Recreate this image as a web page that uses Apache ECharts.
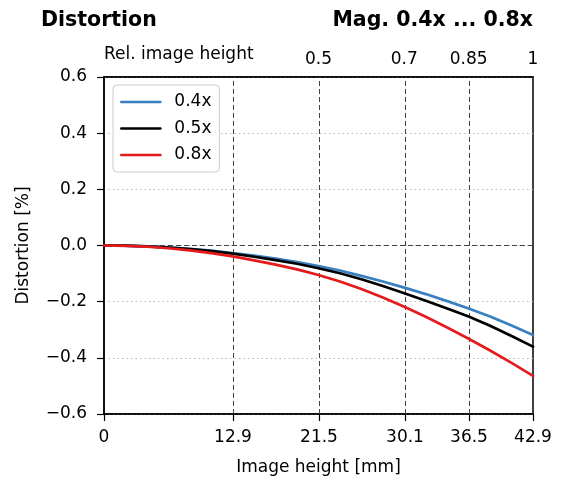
<!DOCTYPE html>
<html>
<head>
<meta charset="utf-8">
<script src="https://cdn.jsdelivr.net/npm/echarts@6/dist/echarts.min.js"></script>
<style>
html,body{margin:0;padding:0;background:#fff;}
#c{width:571px;height:482px;}
</style>
</head>
<body>
<div id="c"></div>
<script>
// ---- data ----
const xs = [0, 2.145, 4.29, 6.435, 8.58, 10.725, 12.87, 15.015, 17.16, 19.305, 21.45,
            23.595, 25.74, 27.885, 30.03, 32.175, 34.32, 36.465, 38.61, 40.755, 42.9];
const mag04 = [0, -0.0007, -0.003, -0.0066, -0.0118, -0.0183, -0.027, -0.036, -0.047, -0.059, -0.073,
               -0.089, -0.108, -0.128, -0.150, -0.173, -0.198, -0.224, -0.253, -0.285, -0.319];
const mag05 = [0, -0.0008, -0.0032, -0.0072, -0.0129, -0.020, -0.029, -0.040, -0.052, -0.065, -0.081,
               -0.099, -0.120, -0.144, -0.170, -0.197, -0.224, -0.253, -0.286, -0.322, -0.360];
const mag08 = [0, -0.0011, -0.0043, -0.0097, -0.0173, -0.027, -0.039, -0.053, -0.068, -0.085, -0.105,
               -0.128, -0.155, -0.185, -0.218, -0.254, -0.292, -0.332, -0.374, -0.418, -0.464];
const seriesNames = ['0.4x', '0.5x', '0.8x'];
const xTicks = [0, 12.9, 21.5, 30.1, 36.5, 42.9];
const vLines = [12.9, 21.5, 30.1, 36.5];
const relTicks = [0.5, 0.7, 0.85, 1];
const maxHeight = 42.9;
const yMin = -0.6, yMax = 0.6, yStep = 0.2;

const FONT = 'DejaVu Sans';
const colors = ['#3a7fc0', '#000000', '#e41a1c'];
const values = [mag04, mag05, mag08];

const chart = echarts.init(document.getElementById('c'), null, {renderer: 'canvas'});

const lineSeries = values.map((vals, i) => ({
  name: seriesNames[i],
  type: 'line',
  data: xs.map((x, k) => [x, vals[k]]),
  smooth: false,
  symbol: 'none',
  lineStyle: {color: colors[i], width: 2.7, join: 'round', cap: 'round'},
  itemStyle: {color: colors[i]},
  z: 5
}));

const helper = {
  name: 'ref',
  type: 'line',
  data: [],
  silent: true,
  z: 2,
  markLine: {
    silent: true,
    symbol: ['none', 'none'],
    label: {show: false},
    lineStyle: {color: '#444', width: 1, type: [5, 3]},
    data: vLines.map(v => ({xAxis: v})).concat([{yAxis: 0}])
  }
};

chart.setOption({
  backgroundColor: '#fff',
  animation: false,
  textStyle: {fontFamily: FONT},
  title: [
    {text: 'Distortion', left: 41, top: 10, padding: 0,
     textStyle: {fontFamily: FONT, fontSize: 20.5, fontWeight: 'bold', color: '#000'}},
    {text: 'Mag. 0.4x ... 0.8x', right: 38, top: 10, padding: 0,
     textStyle: {fontFamily: FONT, fontSize: 20.5, fontWeight: 'bold', color: '#000'}},
    {text: 'Rel. image height', left: 104, top: 46, padding: 0,
     textStyle: {fontFamily: FONT, fontSize: 17, fontWeight: 'normal', color: '#000'}}
  ],
  legend: {
    data: seriesNames,
    orient: 'vertical',
    left: 113, top: 85,
    itemWidth: 39, itemHeight: 17, itemGap: 9.5,
    padding: [8.5, 8, 8.5, 7],
    borderColor: '#ccc', borderWidth: 1, borderRadius: 4,
    backgroundColor: '#fff',
    itemStyle: {color: 'rgba(0,0,0,0)', borderWidth: 0, opacity: 0},
    lineStyle: {width: 2.7},
    textStyle: {fontFamily: FONT, fontSize: 17, color: '#000', padding: [0, 0, 0, 9]}
  },
  grid: {
    left: 104, right: 38, top: 77, bottom: 68,
    show: true, borderColor: '#000', borderWidth: 1.5, backgroundColor: 'transparent'
  },
  xAxis: [
    {
      type: 'value', position: 'bottom', min: 0, max: maxHeight,
      name: 'Image height [mm]', nameLocation: 'middle', nameGap: 45,
      nameTextStyle: {fontFamily: FONT, fontSize: 17, color: '#000'},
      axisLine: {show: true, onZero: false, lineStyle: {color: '#000', width: 1.5}},
      axisTick: {show: true, customValues: xTicks, length: 7, lineStyle: {color: '#000', width: 1.2}},
      axisLabel: {customValues: xTicks, margin: 15, fontFamily: FONT, fontSize: 17, color: '#000',
        formatter: v => String(v)},
      splitLine: {show: false}
    },
    {
      type: 'value', position: 'top', min: 0, max: maxHeight,
      axisLine: {show: true, onZero: false, lineStyle: {color: '#000', width: 1.5}},
      axisTick: {show: false},
      axisLabel: {customValues: relTicks.map(r => r * maxHeight), margin: 9, fontFamily: FONT, fontSize: 17, color: '#000',
        formatter: v => String(Number((v / maxHeight).toFixed(2)))},
      splitLine: {show: false}
    }
  ],
  yAxis: {
    type: 'value', min: yMin, max: yMax, interval: yStep,
    name: 'Distortion [%]', nameLocation: 'middle', nameGap: 72, nameRotate: 90,
    nameTextStyle: {fontFamily: FONT, fontSize: 17, color: '#000'},
    axisLine: {show: true, onZero: false, lineStyle: {color: '#000', width: 1.5}},
    axisTick: {show: true, length: 7, lineStyle: {color: '#000', width: 1.2}},
    axisLabel: {margin: 17, fontFamily: FONT, fontSize: 17, color: '#000',
      formatter: v => (v < -1e-9 ? '\u2212' : '') + Math.abs(v).toFixed(1)},
    splitLine: {show: true, lineStyle: {color: '#bbb', width: 1, type: [1.5, 3]}}
  },
  series: [helper].concat(lineSeries)
});
</script>
</body>
</html>
